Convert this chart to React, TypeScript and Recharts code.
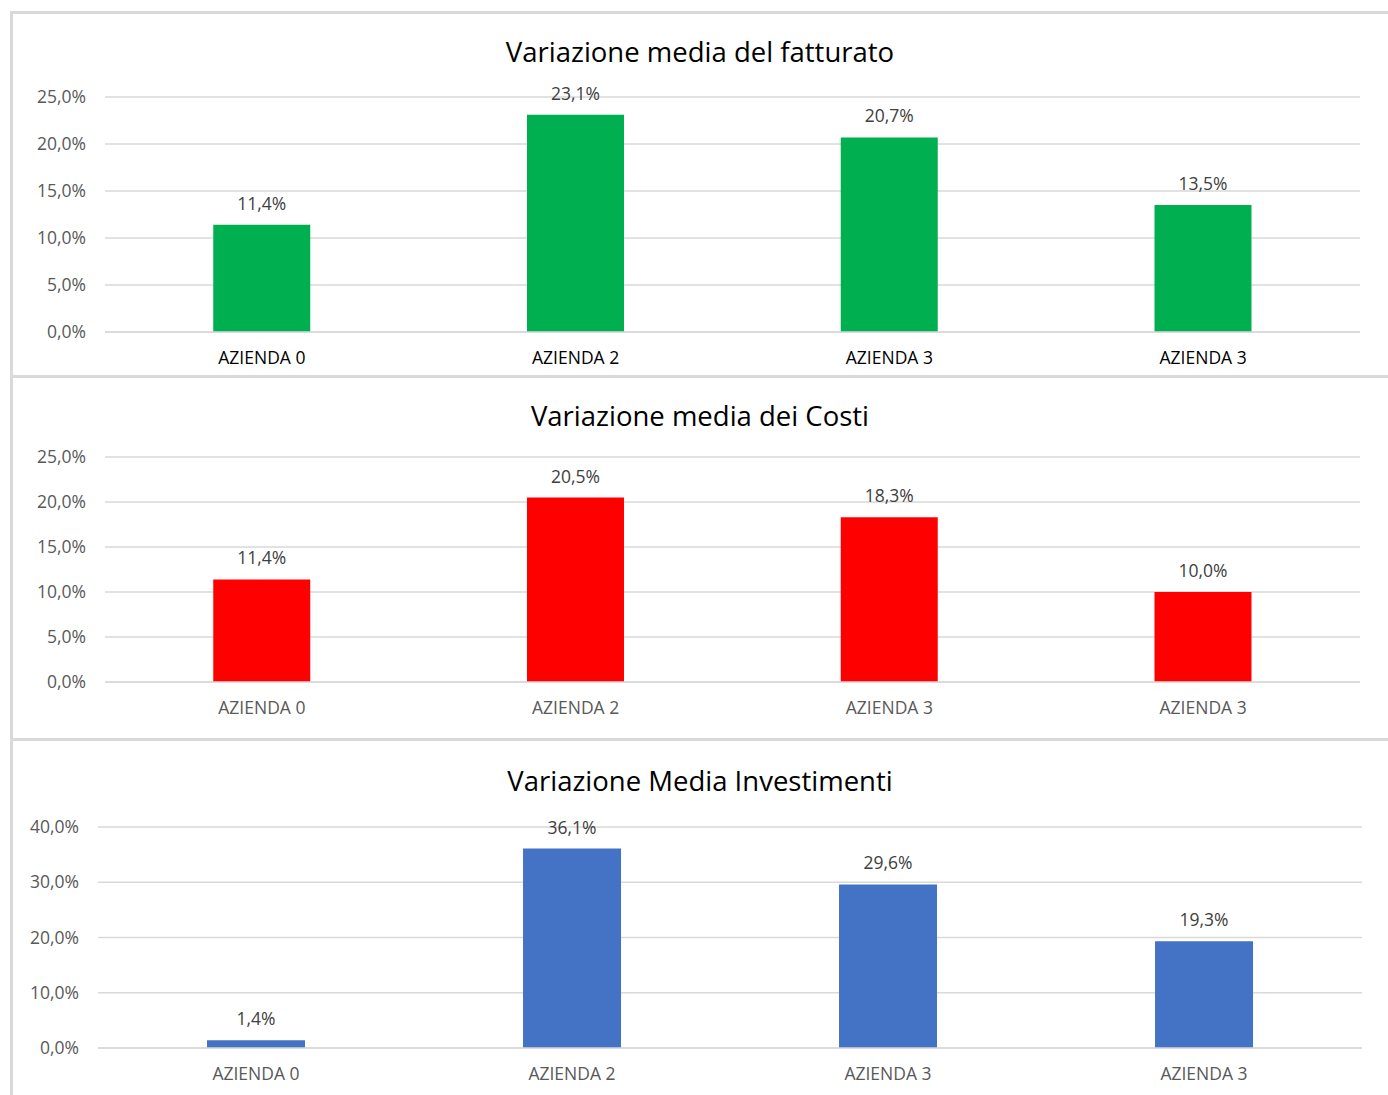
import { BarChart, Bar, XAxis, YAxis, CartesianGrid, LabelList } from 'recharts';

const aziende = ['AZIENDA 0', 'AZIENDA 2', 'AZIENDA 3', 'AZIENDA 3'];
const fatturato = [11.4, 23.1, 20.7, 13.5];
const costi = [11.4, 20.5, 18.3, 10.0];
const investimenti = [1.4, 36.1, 29.6, 19.3];

const ticksFatt = [0, 5, 10, 15, 20, 25];
const ticksCosti = [0, 5, 10, 15, 20, 25];
const ticksInv = [0, 10, 20, 30, 40];

const FONT = '"Open Sans", "Noto Sans", sans-serif';
const SMALL = 17.5;
const fmt = (v: number) => `${v.toFixed(1).replace('.', ',')}%`;

interface PanelProps {
  title: string;
  values: number[];
  ticks: number[];
  color: string;
  top: number;
  height: number;
  plotTop: number;
  plotBottom: number;
  plotLeft: number;
  plotRight: number;
  titleY: number;
  xColor: string;
}

function Panel(p: PanelProps) {
  const data = aziende.map((name, i) => ({ name, value: p.values[i] }));
  const W = 1388;
  return (
    <div style={{ position: 'absolute', left: 0, top: p.top, width: W, height: p.height }}>
      <div
        style={{
          position: 'absolute',
          left: 0,
          width: W,
          top: p.titleY - p.top - 19,
          textAlign: 'center',
          fontFamily: FONT,
          fontSize: 27.5,
          color: '#000',
          lineHeight: '38px',
          paddingLeft: 12,
          boxSizing: 'border-box',
        }}
      >
        {p.title}
      </div>
      <div style={{ position: 'absolute', left: 0, top: 0 }}>
        <BarChart
          width={W}
          height={p.height}
          data={data}
          barCategoryGap="34.5%"
          margin={{ top: p.plotTop - p.top, right: W - p.plotRight, bottom: p.top + p.height - p.plotBottom - 30, left: 0 }}
        >
          <CartesianGrid vertical={false} stroke="#d9d9d9" strokeWidth={1.5} />
          <XAxis
            dataKey="name"
            axisLine={{ stroke: '#d9d9d9', strokeWidth: 1.5 }}
            tickLine={false}
            height={30}
            tickMargin={14}
            tick={{ fill: p.xColor, fontSize: SMALL, fontFamily: FONT }}
          />
          <YAxis
            width={p.plotLeft}
            domain={[p.ticks[0], p.ticks[p.ticks.length - 1]]}
            ticks={p.ticks}
            axisLine={false}
            tickLine={false}
            tickMargin={13}
            tickFormatter={fmt}
            tick={{ fill: '#595959', fontSize: SMALL, fontFamily: FONT }}
          />
          <Bar dataKey="value" fill={p.color} isAnimationActive={false}>
            <LabelList
              dataKey="value"
              position="top"
              offset={15}
              formatter={(v: any) => fmt(Number(v))}
              style={{ fill: '#404040', fontSize: SMALL, fontFamily: FONT }}
            />
          </Bar>
        </BarChart>
      </div>
    </div>
  );
}

export default function App() {
  return (
    <div style={{ position: 'absolute', left: 0, top: 0, width: 1388, height: 1095, background: '#fff', overflow: 'hidden' }}>
      <div style={{ position: 'absolute', left: 10, top: 11, width: 1400, height: 1100, border: '3px solid #d9d9d9', boxSizing: 'border-box' }} />
      <div style={{ position: 'absolute', left: 10, top: 375, width: 1380, height: 3, background: '#d9d9d9' }} />
      <div style={{ position: 'absolute', left: 10, top: 738, width: 1380, height: 3, background: '#d9d9d9' }} />
      <Panel
        title="Variazione media del fatturato"
        values={fatturato}
        ticks={ticksFatt}
        color="#00B050"
        top={14}
        height={361}
        plotTop={97}
        plotBottom={332}
        plotLeft={105}
        plotRight={1360}
        titleY={52}
        xColor="#000000"
      />
      <Panel
        title="Variazione media dei Costi"
        values={costi}
        ticks={ticksCosti}
        color="#FF0000"
        top={378}
        height={360}
        plotTop={457}
        plotBottom={682}
        plotLeft={105}
        plotRight={1360}
        titleY={416}
        xColor="#595959"
      />
      <Panel
        title="Variazione Media Investimenti"
        values={investimenti}
        ticks={ticksInv}
        color="#4472C4"
        top={741}
        height={354}
        plotTop={827}
        plotBottom={1048}
        plotLeft={98}
        plotRight={1362}
        titleY={781}
        xColor="#595959"
      />
    </div>
  );
}
